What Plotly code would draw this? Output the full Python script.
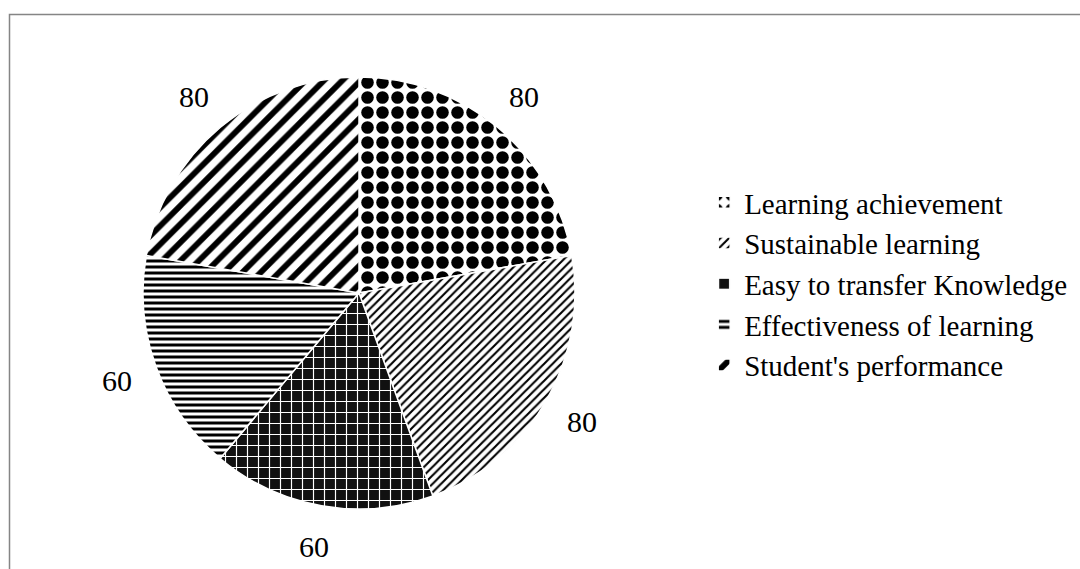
import math
import plotly.graph_objects as go

# Survey results for the five learning outcomes
categories = [
    "Learning achievement",
    "Sustainable learning",
    "Easy to transfer Knowledge",
    "Effectiveness of learning",
    "Student's performance",
]
values = [80, 80, 60, 60, 80]

# Monochrome fill patterns, one per outcome
patterns = [
    dict(shape=".", fgcolor="black", bgcolor="white", size=15, solidity=0.55),
    dict(shape="/", fgcolor="black", bgcolor="white", size=6, solidity=0.35),
    dict(shape="+", fgcolor="white", bgcolor="#111111", size=11, solidity=0.2),
    dict(shape="-", fgcolor="black", bgcolor="white", size=6, solidity=0.5),
    dict(shape="/", fgcolor="black", bgcolor="white", size=13, solidity=0.45),
]

W, H = 1080, 569
cx, cy, r = 359, 293, 216  # pie centre and radius in pixels
label_dist = 1.19          # value labels sit this many radii from the centre

fig = go.Figure(
    go.Pie(
        labels=categories,
        values=values,
        sort=False,
        direction="clockwise",
        rotation=0,
        textinfo="none",
        hovertemplate="%{label}: %{value}<extra></extra>",
        marker=dict(
            colors=["white"] * len(values),
            pattern=dict(
                shape=[p["shape"] for p in patterns],
                fgcolor=[p["fgcolor"] for p in patterns],
                bgcolor=[p["bgcolor"] for p in patterns],
                size=[p["size"] for p in patterns],
                solidity=[p["solidity"] for p in patterns],
                fillmode="replace",
            ),
            line=dict(color="white", width=1.5),
        ),
        domain=dict(x=[(cx - r) / W, (cx + r) / W], y=[1 - (cy + r) / H, 1 - (cy - r) / H]),
    )
)

# Value labels placed beyond the rim at each slice's mid-angle
total = sum(values)
acc = 0
for v in values:
    mid = (acc + v / 2) / total * 2 * math.pi
    acc += v
    px = cx + label_dist * r * math.sin(mid)
    py = cy - label_dist * r * math.cos(mid)
    fig.add_annotation(
        x=px / W, y=1 - py / H, xref="paper", yref="paper",
        xanchor="center", yanchor="middle",
        text=str(v), showarrow=False,
        font=dict(family="Liberation Serif", size=30, color="black"),
    )

# Outer frame of the chart area
fig.add_shape(
    type="rect", xref="paper", yref="paper",
    x0=9.5 / W, x1=1.05, y0=-0.05, y1=1 - 14.5 / H,
    line=dict(color="#858585", width=1.5), fillcolor="rgba(0,0,0,0)",
)

fig.update_layout(
    width=W, height=H,
    margin=dict(l=0, r=0, t=0, b=0),
    paper_bgcolor="white",
    plot_bgcolor="white",
    showlegend=True,
    legend=dict(
        x=0.652, y=0.501, xanchor="left", yanchor="middle",
        font=dict(family="Liberation Serif", size=29, color="black"),
        bgcolor="rgba(0,0,0,0)",
        itemwidth=30,
        tracegroupgap=0,
    ),
)

fig.write_html("out.html")
